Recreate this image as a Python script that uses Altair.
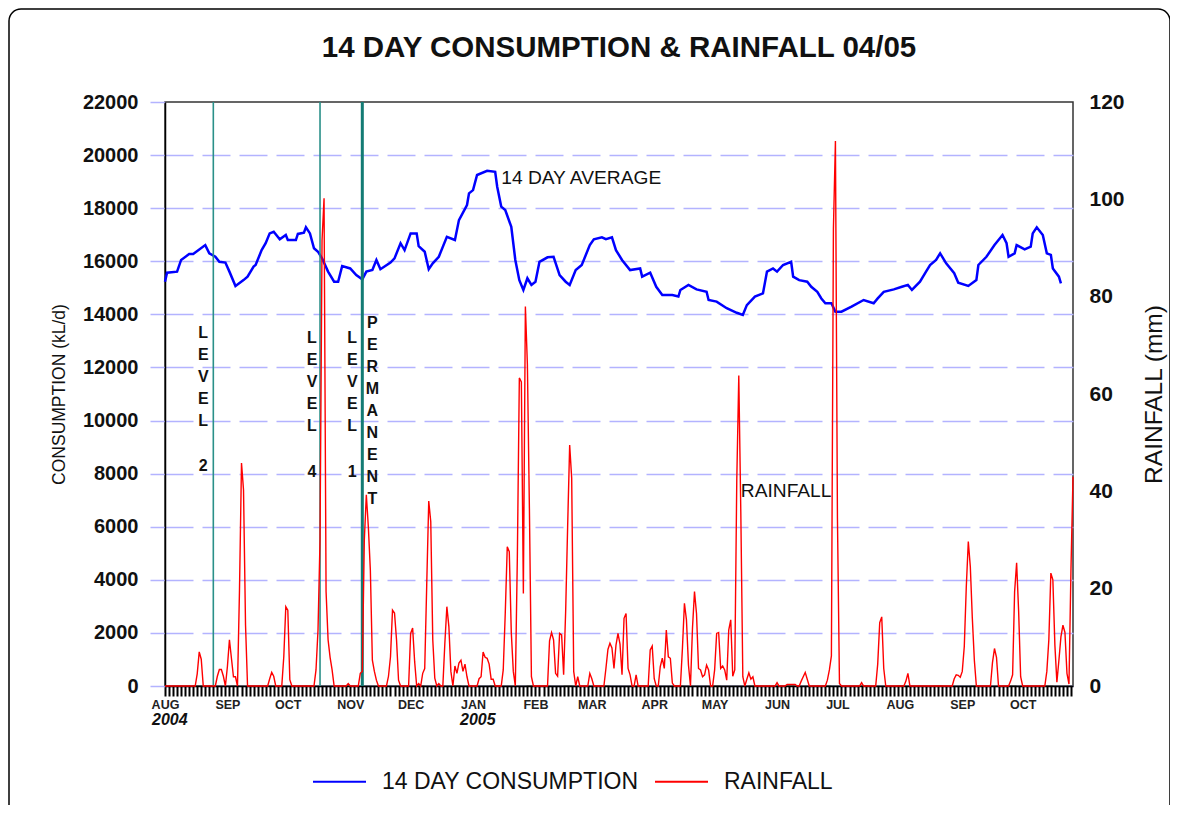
import altair as alt
import pandas as pd

START = pd.Timestamp("2004-08-01")
LAST_DAY = 451  # 26 Oct 2005

# 14-day average consumption (kL/d), read at day offsets from 1 Aug 2004
cons_day = [0, 1, 6, 8, 12, 14, 20, 22, 25, 27, 30, 32, 35, 39, 41, 44, 45, 48, 50, 52,
            54, 57, 60, 61, 65, 66, 69, 70, 72, 74, 76, 78, 81, 84, 86, 88, 92, 95, 98, 100,
            103, 105, 107, 112, 114, 117, 119, 122, 125, 126, 129, 131, 133, 136, 140, 144, 146, 150, 151, 153,
            155, 160, 164, 165, 167, 169, 172, 174, 176, 178, 180, 182, 184, 186, 190, 193, 196, 199, 201, 204,
            207, 211, 213, 217, 219, 222, 224, 227, 231, 236, 237, 241, 244, 247, 252, 255, 256, 260, 264, 269,
            270, 274, 279, 284, 287, 289, 293, 297, 299, 302, 304, 307, 311, 312, 315, 319, 321, 324, 326, 328,
            331, 333, 336, 341, 347, 352, 354, 357, 362, 366, 369, 371, 375, 378, 380, 383, 385, 388, 392, 394,
            399, 403, 404, 408, 412, 416, 418, 419, 422, 423, 427, 430, 431, 433, 436, 438, 440, 441, 444, 445]
cons_val = [15230, 15570, 15610, 16050, 16270, 16270, 16610, 16300, 16170, 15980, 15950, 15610, 15070, 15290, 15420, 15800, 15860, 16420, 16680, 17050,
            17110, 16830, 16990, 16800, 16800, 17030, 17080, 17280, 17050, 16490, 16360, 16110, 15610, 15230, 15230, 15820, 15730, 15480, 15320, 15610,
            15670, 16050, 15700, 15950, 16110, 16680, 16420, 17050, 17050, 16570, 16360, 15700, 15920, 16170, 16920, 16800, 17550, 18120, 18560, 18680,
            19250, 19410, 19370, 18810, 18060, 17930, 17300, 16050, 15290, 14920, 15360, 15110, 15230, 15980, 16150, 16170, 15480, 15230, 15110, 15670,
            15860, 16610, 16830, 16900, 16830, 16900, 16420, 16050, 15670, 15730, 15420, 15570, 15040, 14730, 14730, 14670, 14920, 15110, 14940, 14850,
            14540, 14480, 14230, 14060, 13980, 14350, 14670, 14790, 15610, 15730, 15610, 15860, 15980, 15420, 15290, 15230, 15040, 14850, 14600, 14420,
            14420, 14100, 14100, 14290, 14540, 14420, 14600, 14850, 14940, 15040, 15110, 14920, 15230, 15610, 15860, 16050, 16300, 15920, 15550, 15190,
            15070, 15290, 15860, 16170, 16610, 16990, 16680, 16170, 16300, 16610, 16450, 16550, 17050, 17280, 16990, 16300, 16240, 15730, 15420, 15170]

# daily rainfall (mm): days with rain (all other days read as 0)
rain_day = [16, 17, 18, 26, 27, 28, 29, 31, 32, 33, 34, 35, 37, 38, 39, 40, 52, 53, 54, 59,
            60, 61, 62, 75, 76, 77, 78, 79, 80, 81, 82, 83, 91, 97, 98, 99, 100, 101, 102, 103,
            104, 105, 111, 112, 113, 114, 115, 116, 122, 123, 124, 126, 128, 129, 130, 131, 132, 133, 134, 136,
            139, 140, 141, 142, 144, 145, 146, 147, 148, 149, 150, 156, 157, 158, 159, 160, 161, 162, 163, 168,
            169, 170, 171, 172, 173, 175, 176, 177, 178, 179, 180, 181, 182, 191, 192, 193, 194, 195, 196, 197,
            198, 199, 200, 201, 202, 203, 205, 211, 212, 219, 220, 221, 222, 223, 224, 225, 226, 227, 228, 229,
            230, 231, 234, 241, 242, 243, 246, 247, 248, 249, 250, 251, 252, 257, 258, 259, 260, 262, 263, 264,
            265, 266, 267, 268, 269, 270, 273, 274, 275, 276, 277, 278, 279, 280, 281, 282, 283, 284, 285, 286,
            287, 289, 290, 291, 292, 304, 309, 310, 311, 312, 313, 316, 317, 318, 319, 329, 330, 331, 332, 333,
            334, 335, 346, 354, 355, 356, 357, 368, 369, 392, 393, 394, 395, 396, 397, 398, 399, 400, 401, 402,
            411, 412, 413, 420, 421, 422, 423, 424, 425, 438, 439, 440, 441, 442, 443, 444, 445, 446, 447, 448,
            449, 450, 451]
rain_mm = [2.5, 7.0, 5.5, 2.0, 3.4, 3.4, 2.0, 4.0, 9.5, 5.7, 1.9, 1.9, 19.7, 45.8, 40.3, 12.5, 1.5, 2.8, 2.0, 6.0,
           16.3, 15.6, 1.3, 3.3, 11.5, 30.0, 91.6, 100.2, 19.4, 9.5, 5.9, 3.3, 0.5, 2.6, 3.0, 30.0, 39.3, 32.7, 23.8, 5.3,
           3.0, 1.2, 2.0, 6.0, 15.6, 15.0, 9.5, 1.2, 10.8, 11.9, 5.0, 0.5, 2.6, 3.6, 20.8, 38.0, 33.8, 9.5, 1.6, 0.5,
           8.8, 16.3, 12.2, 3.0, 4.1, 2.6, 4.7, 5.3, 3.0, 4.5, 1.9, 1.5, 1.9, 7.0, 5.9, 5.7, 4.5, 1.4, 1.4, 3.3,
           14.9, 28.6, 27.6, 11.0, 3.0, 26.2, 63.3, 62.5, 19.0, 78.0, 66.0, 36.5, 1.9, 9.3, 11.0, 9.5, 2.6, 2.0, 10.8, 10.5,
           2.3, 15.3, 33.0, 49.5, 42.7, 3.0, 1.9, 2.6, 1.5, 3.6, 7.5, 8.8, 7.8, 3.6, 8.4, 10.8, 8.6, 2.3, 13.9, 14.9,
           3.6, 2.3, 2.3, 7.4, 8.2, 1.5, 4.0, 5.7, 3.6, 11.5, 6.0, 5.7, 0.6, 7.7, 17.0, 13.6, 4.3, 11.9, 19.4, 14.9,
           3.6, 3.3, 1.9, 2.3, 4.3, 3.3, 3.3, 10.8, 11.0, 3.6, 4.1, 3.3, 1.2, 11.5, 13.6, 2.0, 3.3, 42.3, 63.8, 35.8,
           1.9, 1.4, 2.7, 1.4, 1.9, 0.7, 0.3, 0.3, 0.3, 0.3, 0.3, 1.0, 1.9, 2.8, 1.4, 1.2, 3.3, 6.2, 94.0, 112.0,
           34.5, 0.5, 0.7, 4.5, 13.0, 14.2, 3.6, 1.0, 2.6, 1.5, 2.3, 2.2, 1.8, 3.0, 8.1, 20.4, 29.7, 24.5, 13.9, 5.3,
           4.8, 7.7, 5.9, 1.0, 2.3, 19.4, 25.3, 15.3, 1.9, 3.0, 9.5, 23.2, 21.8, 8.4, 0.8, 5.3, 10.1, 12.5, 11.0, 2.6,
           0.4, 24.2, 43.0]

SERIES = ["14 DAY CONSUMPTION", "RAINFALL"]
SERIES_COLORS = ["#0000ff", "#ff0000"]

# water restriction changes (day offsets)
restriction_day = [24, 77, 98]
permanent_day = [98]
ann_text = ["L\nE\nV\nE\nL", "2", "L\nE\nV\nE\nL", "4", "L\nE\nV\nE\nL", "1",
            "P\nE\nR\nM\nA\nN\nE\nN\nT"]
ann_day = [19, 19, 73, 73, 93, 93, 103]
ann_val = [13600, 8590, 13400, 8360, 13400, 8360, 13980]

label_text = ["14 DAY AVERAGE", "RAINFALL"]
label_day = [167, 286]
label_val = [19140, 7345]

year_text = ["2004", "2005"]
year_date = ["2004-08-01", "2005-01-01"]

month_starts = pd.date_range("2004-08-01", "2005-10-01", freq="MS")
comb_days = pd.date_range("2004-08-01", "2005-10-26", freq="2D")

assert len(cons_day) == len(cons_val)
assert len(rain_day) == len(rain_mm)
assert len(ann_text) == len(ann_day) == len(ann_val)


def day_str(d):
    return (START + pd.Timedelta(days=int(d))).strftime("%Y-%m-%d")


def ms(ts):
    return int(pd.Timestamp(ts).value // 10**6)


cons_df = pd.DataFrame({"date": [day_str(d) for d in cons_day], "value": cons_val, "series": SERIES[0]})
rain_daily = [0.0] * (LAST_DAY + 1)
for d, v in zip(rain_day, rain_mm):
    rain_daily[d] = v
rain_df = pd.DataFrame({"date": [day_str(d) for d in range(LAST_DAY + 1)], "mm": rain_daily, "series": SERIES[1]})
rule_df = pd.DataFrame({"date": [day_str(d) for d in restriction_day]})
perm_df = pd.DataFrame({"date": [day_str(d) for d in permanent_day]})
ann_df = pd.DataFrame({"date": [day_str(d) for d in ann_day], "value": ann_val, "text": ann_text})
lab_df = pd.DataFrame({"date": [day_str(d) for d in label_day], "value": label_val, "text": label_text})
year_df = pd.DataFrame({"date": year_date, "text": year_text})

FONT = "Liberation Sans"
W, H = 908, 584
xdomain = [ms(START), ms(START + pd.Timedelta(days=LAST_DAY))]
xscale = alt.Scale(domain=xdomain, nice=False)
yscale = alt.Scale(domain=[0, 22000], nice=False)

month_axis = alt.Axis(values=[ms(t) for t in month_starts],
                      labelExpr="upper(utcFormat(datum.value, '%b'))",
                      ticks=False, domain=False, grid=False, orient="bottom", title=None,
                      labelFontSize=12.5, labelFontWeight="bold", labelColor="#222",
                      labelPadding=12, labelFlush=False, labelOverlap=False)
comb_axis = alt.Axis(values=[ms(t) for t in comb_days], labels=False, tickSize=10, tickWidth=2,
                     tickColor="black", domain=True, domainColor="black", domainWidth=1.5,
                     grid=False, orient="bottom", title=None)
left_axis = alt.Axis(values=list(range(0, 22001, 2000)), format="d", grid=True, gridColor="#b3b3ff",
                     gridOpacity={"condition": {"test": "datum.value >= 22000", "value": 0}, "value": 1},
                     gridDash=[28, 9], gridWidth=1.5, tickColor="#b3b3ff", tickSize=15,
                     tickWidth=1.5, domainColor="black", domainWidth=1.5, orient="left",
                     labelFontSize=20, labelFontWeight="bold", labelColor="#111", labelPadding=12,
                     title="CONSUMPTION (kL/d)", titleFontSize=17.5, titleFontWeight="normal",
                     titleColor="#111", titlePadding=14)

X = alt.X("date:T", scale=xscale, axis=month_axis)
Y = alt.Y("value:Q", scale=yscale, axis=left_axis)

cons_line = alt.Chart(cons_df).mark_line(strokeWidth=2.5).encode(
    x=X, y=Y,
    color=alt.Color("series:N", scale=alt.Scale(domain=SERIES, range=SERIES_COLORS),
                    legend=alt.Legend(orient="none", legendX=147, legendY=652, direction="horizontal",
                                      title=None, symbolType="stroke", symbolSize=2809,
                                      symbolStrokeWidth=2, labelFontSize=23, labelFont=FONT,
                                      labelLimit=400, labelOffset=15, columnPadding=12, padding=0,
                                      labelColor="#111")),
)

rules = alt.Chart(rule_df).mark_rule(color="#2a9089", strokeWidth=1.6).encode(x=X)
perm_rule = alt.Chart(perm_df).mark_rule(color="#137b74", strokeWidth=3).encode(x=X)

ann = alt.Chart(ann_df).mark_text(fontSize=16, fontWeight="bold", lineBreak="\n", lineHeight=22,
                                  align="center", baseline="top", color="#111").encode(
    x=X, y=Y, text="text:N")

labels = alt.Chart(lab_df).mark_text(fontSize=19.2, align="left", baseline="middle", color="#111").encode(
    x=X, y=Y, text="text:N")

years = alt.Chart(year_df).mark_text(fontSize=16, fontWeight="bold", fontStyle="italic", align="left",
                                     baseline="middle", dx=-13, color="#111").encode(
    x=X, y=alt.value(H + 34), text="text:N")

frame = alt.Chart(pd.DataFrame({"k": [0]})).mark_rect(
    cornerRadius=12, fill="white", fillOpacity=0, stroke="black", strokeWidth=1.5).encode(
    x=alt.value(-156), x2=alt.value(1005), y=alt.value(-93), y2=alt.value(760))

left = alt.layer(cons_line, rules, perm_rule, ann, labels, years, frame)

rain_line = alt.Chart(rain_df).mark_line(strokeWidth=1.4).encode(
    x=alt.X("date:T", scale=xscale, axis=comb_axis),
    y=alt.Y("mm:Q", scale=alt.Scale(domain=[0, 120], nice=False),
            axis=alt.Axis(values=list(range(0, 121, 20)), orient="right", ticks=False, domain=False,
                          grid=False, labelFontSize=21, labelFontWeight="bold", labelColor="#111",
                          labelPadding=16, title="RAINFALL (mm)", titleFontSize=24.5,
                          titleFontWeight="normal", titleColor="#111", titleAngle=270, titlePadding=42)),
    color=alt.Color("series:N", scale=alt.Scale(domain=SERIES, range=SERIES_COLORS), legend=None),
)

chart = alt.layer(left, rain_line).resolve_scale(y="independent").resolve_axis(x="independent").properties(
    width=W, height=H,
    title=alt.Title("14 DAY CONSUMPTION & RAINFALL 04/05", fontSize=29.5, fontWeight="bold", font=FONT,
                    anchor="middle", frame="group", offset=-55, color="#111"),
    autosize=alt.AutoSizeParams(type="none"),
    padding={"left": 157, "top": 94, "right": 97, "bottom": 119},
).configure(font=FONT).configure_view(stroke="#333", strokeWidth=1.5).configure_axis(labelFont=FONT, titleFont=FONT)

chart.save("out.html", embed_options={"renderer": "svg", "actions": False})
